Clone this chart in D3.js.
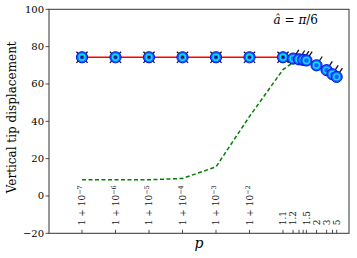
<!DOCTYPE html>
<html lang="en">
<head>
    <meta charset="UTF-8">
    <title>Vertical tip displacement</title>
    <script src="https://d3js.org/d3.v7.min.js"></script>
    <style>
        body { margin: 0; background: #fff; }
        svg text { font-family: "DejaVu Serif", "Liberation Serif", serif; }
    </style>
</head>
<body>

<svg id="svg-container" width="357" height="258"></svg>
<script>

    // p - 1 for every computed point
    const pMinusOne = [1e-7, 1e-6, 1e-5, 1e-4, 1e-3, 1e-2, 0.1, 0.2, 0.3, 0.4, 0.5, 1, 2, 3, 4];
    // tip displacement of the full model (markers + red line)
    const tipDisp = [74.3, 74.3, 74.3, 74.3, 74.3, 74.3, 74.3, 73.6, 73.2, 72.9, 72.6, 70.0, 67.4, 65.2, 63.8];
    // marker style: "x" = cross, "d" = tilted director
    const tipMark = ["x", "x", "x", "x", "x", "x", "x", "d", "d", "d", "d", "d", "d", "d", "d"];
    // reduced model (green dashed)
    const reducedP = [1e-7, 1e-6, 1e-5, 1e-4, 1e-3, 1e-2, 0.1, 0.2];
    const reducedDisp = [8.7, 8.7, 8.7, 9.4, 15.6, 42.6, 67.7, 71.5];

    const yTicks = [-20, 0, 20, 40, 60, 80, 100];
    const xTicks = [1e-7, 1e-6, 1e-5, 1e-4, 1e-3, 1e-2, 0.1, 0.2, 0.3, 0.4, 0.5, 1, 2, 3, 4];
    const xTickLabels = ["1 + 10|−7", "1 + 10|−6", "1 + 10|−5", "1 + 10|−4", "1 + 10|−3", "1 + 10|−2",
        "1.1", "1.2", "", "", "1.5", "2", "3", "", "5"];

    window.onload = function () {

        const svg = d3.select("#svg-container");
        const left = 49, right = 349, top = 9.3, bottom = 233.3;

        const x = d3.scaleLog()
            .domain([Math.pow(10, -7.985), Math.pow(10, 0.97)])
            .range([left, right]);
        const y = d3.scaleLinear()
            .domain([-20, 100])
            .range([bottom, top]);

        // y axis ticks + labels
        const yAxis = svg.append("g");
        yTicks.forEach(t => {
            yAxis.append("line")
                .attr("x1", left - 3.5).attr("x2", left)
                .attr("y1", y(t)).attr("y2", y(t))
                .attr("stroke", "#222").attr("stroke-width", 0.8);
            yAxis.append("text")
                .attr("x", left - 5).attr("y", y(t))
                .attr("dy", "0.35em")
                .attr("text-anchor", "end")
                .style("font-size", "10px")
                .text(String(t).replace("-", "−"));
        });

        // x ticks (inward) + rotated labels
        const xAxis = svg.append("g");
        xTicks.forEach((t, i) => {
            xAxis.append("line")
                .attr("x1", x(t)).attr("x2", x(t))
                .attr("y1", bottom).attr("y2", bottom - 3.5)
                .attr("stroke", "#222").attr("stroke-width", 0.8);
            const lab = xTickLabels[i];
            if (!lab) return;
            const txt = xAxis.append("text")
                .attr("transform", `translate(${x(t)},${bottom - 8}) rotate(-90)`)
                .attr("dy", "0.35em")
                .attr("text-anchor", "start")
                .style("font-size", "9px")
                .style("fill", "#222");
            const parts = lab.split("|");
            txt.append("tspan").text(parts[0]);
            if (parts[1]) {
                txt.append("tspan")
                    .attr("dy", "-0.45em")
                    .style("font-size", "6.5px")
                    .text(parts[1]);
            }
        });

        // reduced model
        const line = d3.line()
            .x(d => x(d[0]))
            .y(d => y(d[1]));

        svg.append("path")
            .datum(reducedP.map((p, i) => [p, reducedDisp[i]]))
            .attr("d", line)
            .attr("fill", "none")
            .attr("stroke", "green")
            .attr("stroke-width", 1.5)
            .attr("stroke-dasharray", "4,2.5");

        // full model line
        const pts = pMinusOne.map((p, i) => ({p: p, v: tipDisp[i], m: tipMark[i]}));
        svg.append("path")
            .datum(pts.map(d => [d.p, d.v]))
            .attr("d", line)
            .attr("fill", "none")
            .attr("stroke", "red")
            .attr("stroke-width", 1.5);

        // black director lines behind markers
        const dirs = svg.append("g").attr("stroke", "#111").attr("stroke-width", 1.3);
        pts.forEach(d => {
            const cx = x(d.p), cy = y(d.v);
            if (d.m === "x") {
                const h = 5.6;
                dirs.append("line").attr("x1", cx - h).attr("y1", cy - h).attr("x2", cx + h).attr("y2", cy + h);
                dirs.append("line").attr("x1", cx + h).attr("y1", cy - h).attr("x2", cx - h).attr("y2", cy + h);
            } else {
                const a = 57 * Math.PI / 180, L = 10.5;
                dirs.append("line").attr("x1", cx).attr("y1", cy)
                    .attr("x2", cx + L * Math.cos(a)).attr("y2", cy - L * Math.sin(a));
            }
        });

        // markers
        const mk = svg.selectAll("g.mk")
            .data(pts)
            .enter()
            .append("g")
            .attr("class", "mk")
            .attr("transform", d => `translate(${x(d.p)},${y(d.v)})`);
        mk.append("circle").attr("r", 5.6).attr("fill", "#1f5cff").attr("stroke", "#0010e0").attr("stroke-width", 1);
        mk.append("circle").attr("r", 3).attr("fill", "none").attr("stroke", "#00e5ff").attr("stroke-width", 1.4);
        mk.filter(d => d.m === "x").append("circle").attr("r", 1.3).attr("fill", "#300");
        mk.filter(d => d.m === "x").append("circle").attr("r", 0.6).attr("fill", "red");

        // frame
        svg.append("rect")
            .attr("x", left).attr("y", top)
            .attr("width", right - left).attr("height", bottom - top)
            .attr("fill", "none")
            .attr("stroke", "#333")
            .attr("stroke-width", 1);

        // annotation
        const ann = svg.append("text")
            .attr("x", 318).attr("y", 24)
            .attr("text-anchor", "end")
            .style("font-size", "12px");
        ann.append("tspan").style("font-style", "italic").text("â");
        ann.append("tspan").text(" = ");
        ann.append("tspan").style("font-style", "italic").text("π");
        ann.append("tspan").text("/6");

        // axis labels
        svg.append("text")
            .attr("transform", `translate(16,${(top + bottom) / 2 - 4}) rotate(-90)`)
            .attr("text-anchor", "middle")
            .style("font-size", "12px")
            .text("Vertical tip displacement");

        svg.append("text")
            .attr("x", (left + right) / 2).attr("y", 248)
            .attr("text-anchor", "middle")
            .style("font-size", "14px")
            .style("font-style", "italic")
            .text("p");
    }

</script>

</body>
</html>
